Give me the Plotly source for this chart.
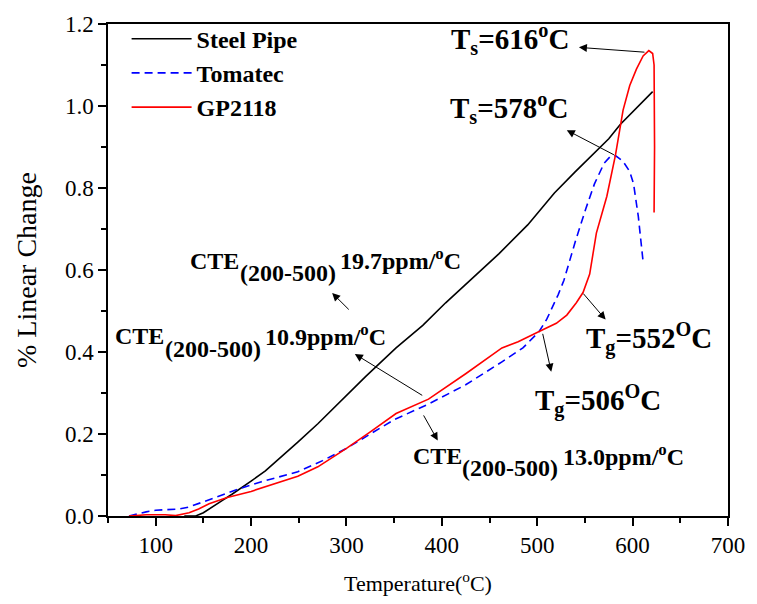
import plotly.graph_objects as go

# ---------------- data ----------------
steel_T = [130, 142, 150, 160, 170, 180, 190, 200, 215, 230, 249, 270, 294, 320, 352,
           380, 404, 430, 460, 490, 518, 540, 562, 575, 587, 600, 610, 621]
steel_L = [0.0, 0.0, 0.008, 0.022, 0.038, 0.053, 0.07, 0.085, 0.11, 0.14, 0.18, 0.225,
           0.28, 0.34, 0.41, 0.465, 0.52, 0.575, 0.64, 0.71, 0.788, 0.84, 0.89, 0.92,
           0.955, 0.985, 1.01, 1.035]

tomatec_T = [72, 80, 90, 100, 110, 124, 135, 148, 165, 186, 210, 230, 249, 275, 300,
             325, 350, 386, 425, 463, 485, 502, 510, 516, 522, 528, 540, 551, 560, 570,
             577, 582, 590, 597, 601, 606, 611]
tomatec_L = [0.0, 0.005, 0.01, 0.014, 0.015, 0.017, 0.022, 0.033, 0.048, 0.065, 0.083,
             0.096, 0.108, 0.135, 0.165, 0.2, 0.235, 0.273, 0.32, 0.376, 0.41, 0.45,
             0.48, 0.51, 0.54, 0.575, 0.67, 0.75, 0.81, 0.86, 0.878, 0.879, 0.865,
             0.84, 0.81, 0.73, 0.62]

gp_T = [72, 90, 110, 121, 135, 145, 156, 175, 200, 225, 249, 270, 300, 325, 352, 386,
        425, 463, 480, 502, 520, 531, 541, 548, 555, 562, 568, 573, 582, 590, 597, 604,
        611, 617, 621, 622.5, 623, 622.5]
gp_L = [0.0, 0.003, 0.003, 0.001, 0.008, 0.017, 0.03, 0.045, 0.06, 0.078, 0.097, 0.12,
        0.165, 0.205, 0.25, 0.285, 0.347, 0.41, 0.425, 0.45, 0.47, 0.49, 0.52, 0.545,
        0.59, 0.69, 0.74, 0.78, 0.88, 0.99, 1.05, 1.09, 1.122, 1.135, 1.128, 1.1, 0.9,
        0.74]

series_names = ["Steel Pipe", "Tomatec", "GP2118"]
cte_values = ["19.7", "10.9", "13.0"]

SERIF = "Times New Roman, Liberation Serif, serif"

fig = go.Figure()
fig.add_trace(go.Scatter(x=steel_T, y=steel_L, mode="lines", name="<b>" + series_names[0] + "</b>",
                         line=dict(color="black", width=1.6)))
fig.add_trace(go.Scatter(x=tomatec_T, y=tomatec_L, mode="lines", name="<b>" + series_names[1] + "</b>",
                         line=dict(color="#0000ff", width=1.6, dash="8px,5px")))
fig.add_trace(go.Scatter(x=gp_T, y=gp_L, mode="lines", name="<b>" + series_names[2] + "</b>",
                         line=dict(color="#ff0000", width=1.6)))

# ---------------- annotations ----------------
def arrow(x_head, y_head, x_tail, y_tail):
    fig.add_annotation(x=x_head, y=y_head, ax=x_tail, ay=y_tail, xref="x", yref="y",
                       axref="x", ayref="y", text="", showarrow=True, arrowhead=2,
                       arrowsize=1.6, arrowwidth=1, arrowcolor="black")

def label(x, y, html, size):
    fig.add_annotation(x=x, y=y, xref="x", yref="y", text=html, showarrow=False,
                       xanchor="left", yanchor="middle",
                       font=dict(family=SERIF, size=size, color="black"))

big = 29
label(407, 1.164, "<b>T<sub>s</sub>=616<sup>o</sup>C</b>", big)
arrow(543.7, 1.143, 614, 1.131)

label(406, 0.995, "<b>T<sub>s</sub>=578<sup>o</sup>C</b>", big)
arrow(531, 0.941, 582, 0.879)

label(549, 0.432, "<b>T<sub>g</sub>=552<sup>O</sup>C</b>", big)
arrow(571.7, 0.479, 547, 0.546)

label(496, 0.282, "<b>T<sub>g</sub>=506<sup>O</sup>C</b>", big)
arrow(514.7, 0.352, 505.4, 0.448)

cte = 24
def cte_label(x_cte, x_sub, x_val, y, value):
    label(x_cte, y, "<b>CTE</b>", cte)
    label(x_sub, y - 0.03, "<b>(200-500)</b>", cte)
    label(x_val, y + 0.004, "<b>" + value + "ppm/<sup>o</sup>C</b>", cte)

cte_label(133.8, 186.6, 291, 0.622, cte_values[0])
arrow(285, 0.544, 304, 0.5)

cte_label(55.2, 108, 212, 0.438, cte_values[1])
arrow(308.8, 0.395, 381, 0.292)

cte_label(367.7, 419.5, 525, 0.146, cte_values[2])
arrow(395.7, 0.184, 380, 0.249)

# ---------------- layout ----------------
axis_common = dict(showline=True, linecolor="black", linewidth=1.5, mirror=True,
                   showgrid=False, zeroline=False, ticks="outside", ticklen=8,
                   tickwidth=1.5, tickcolor="black",
                   tickfont=dict(family=SERIF, size=23, color="black"))

fig.update_layout(
    width=757, height=604,
    margin=dict(l=108, r=21, t=16, b=87),
    paper_bgcolor="white", plot_bgcolor="white",
    showlegend=True,
    legend=dict(x=0.03, y=1.015, xanchor="left", yanchor="top",
                bgcolor="rgba(0,0,0,0)", borderwidth=0,
                font=dict(family=SERIF, size=24, color="black"),
                itemwidth=60, tracegroupgap=0),
    xaxis=dict(range=[50, 700], dtick=100, tick0=0,
               minor=dict(ticks="outside", ticklen=5, dtick=50, tick0=0,
                          tickcolor="black", tickwidth=1.5),
               title=dict(text="Temperature(<sup>o</sup>C)", standoff=18,
                          font=dict(family=SERIF, size=22, color="black")),
               **axis_common),
    yaxis=dict(range=[0, 1.2], dtick=0.2, tick0=0, tickformat=".1f",
               minor=dict(ticks="outside", ticklen=5, dtick=0.1, tick0=0,
                          tickcolor="black", tickwidth=1.5),
               title=dict(text="% Linear Change", standoff=20,
                          font=dict(family=SERIF, size=28, color="black")),
               **axis_common),
)

fig.write_html("out.html")
